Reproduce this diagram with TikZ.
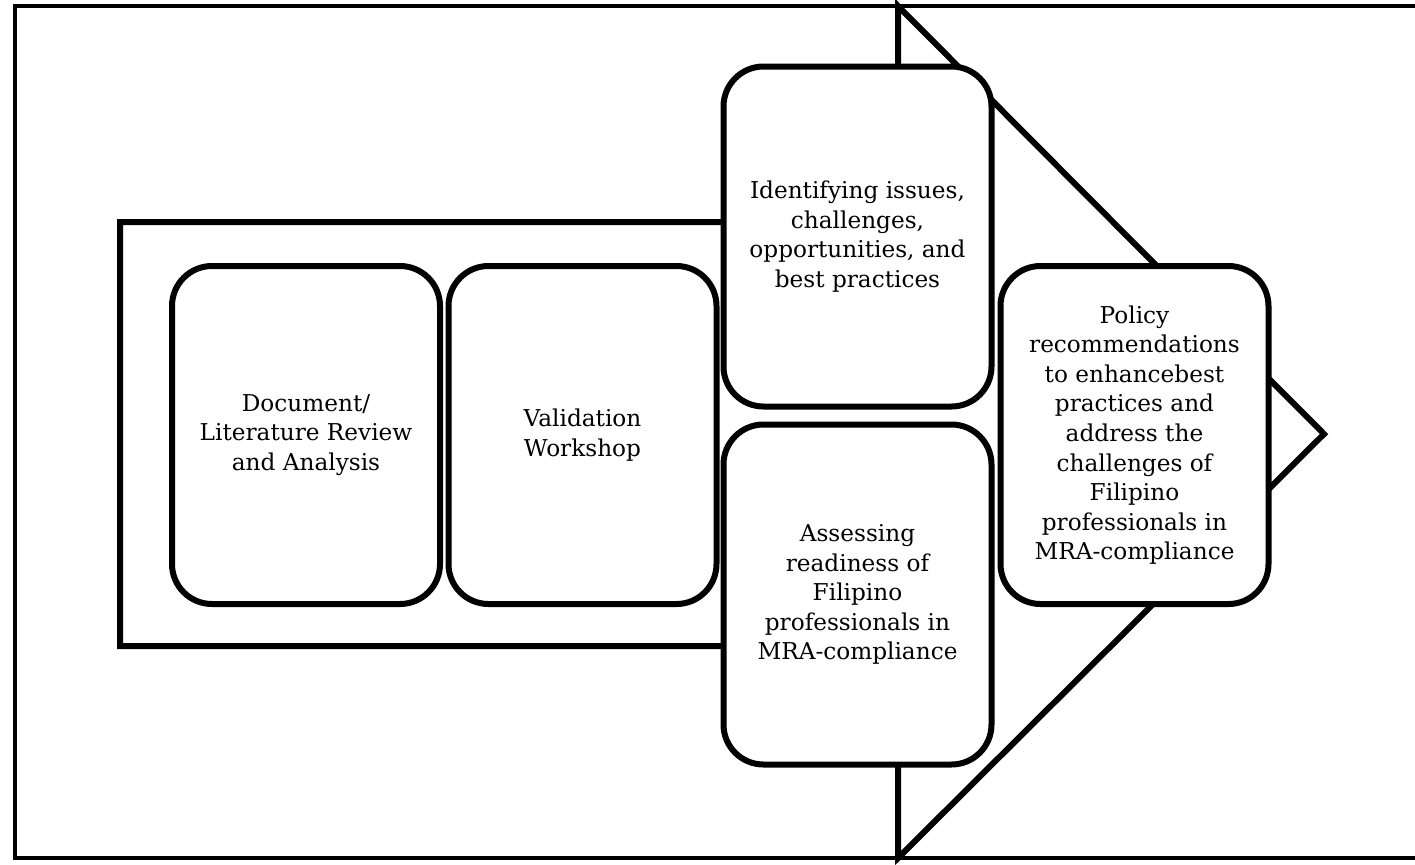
\documentclass[tikz,border=0pt]{standalone}
\usepackage{fontspec}
\setmainfont{DejaVu Serif}
\begin{document}
\begin{tikzpicture}[x=0.5pt,y=-0.5pt,
  frameline/.style={line width=1.8pt},
  bigarrow/.style={draw, line width=3pt, line join=miter, fill=white},
  stagebox/.style={draw, line width=3pt, rounded corners=20pt, fill=white,
    minimum width=134pt, minimum height=169pt, inner sep=0pt, align=center,
    font=\fontsize{11.6}{14.8}\selectfont}]
\useasboundingbox (0,0) rectangle (1415,864);
% outer frame (open on the right)
\draw[frameline] (1416,6) -- (15,6) -- (15,858) -- (1416,858);
% big arrow
\draw[bigarrow] (120,222) -- (898,222) -- (898,6) -- (1324,434) -- (898,858) -- (898,646) -- (120,646) -- cycle;
% stages
\node[stagebox] (doc) at (306,435) {Document/\\Literature Review\\and Analysis};
\node[stagebox] (val) at (582.5,435) {Validation\\Workshop};
\node[stagebox, minimum height=170pt] (ident) at (857.5,236.5) {Identifying issues,\\challenges,\\opportunities, and\\best practices};
\node[stagebox, minimum height=170pt] (assess) at (857.5,594.5) {Assessing\\readiness of\\Filipino\\professionals in\\MRA-compliance};
\node[stagebox] (policy) at (1134.5,435) {Policy\\recommendations\\to enhancebest\\practices and\\address the\\challenges of\\Filipino\\professionals in\\MRA-compliance};
\end{tikzpicture}
\end{document}
